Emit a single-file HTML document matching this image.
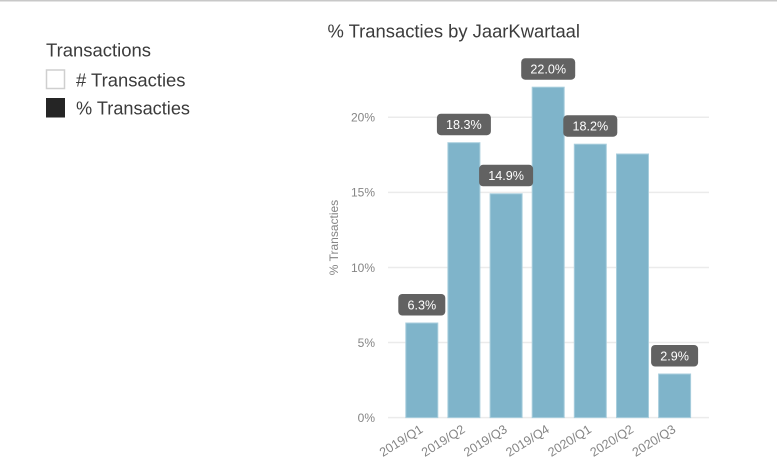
<!DOCTYPE html>
<html>
<head>
<meta charset="utf-8">
<style>
  html, body { margin: 0; padding: 0; background: #ffffff; }
  body { width: 777px; height: 470px; overflow: hidden; }
  svg { display: block; font-family: "Liberation Sans", "DejaVu Sans", sans-serif; }
</style>
</head>
<body>
<svg width="777" height="470" viewBox="0 0 777 470" xmlns="http://www.w3.org/2000/svg">
  <rect x="0" y="0" width="777" height="470" fill="#ffffff"/>
  <!-- top border -->
  <rect x="0" y="0" width="777" height="1.5" fill="#c8c8c8"/>

  <!-- Legend -->
  <text x="46" y="56.7" font-size="18" fill="#3b3b3b" textLength="105" lengthAdjust="spacingAndGlyphs">Transactions</text>
  <rect x="46.5" y="70" width="18" height="18.5" fill="#ffffff" stroke="#cfcfcf" stroke-width="1.5"/>
  <text x="76" y="86.7" font-size="18" fill="#3b3b3b" textLength="109.5" lengthAdjust="spacingAndGlyphs"># Transacties</text>
  <rect x="46" y="98" width="19" height="19.5" fill="#252525"/>
  <text x="76" y="114.3" font-size="18" fill="#3b3b3b" textLength="114" lengthAdjust="spacingAndGlyphs">% Transacties</text>

  <!-- Title -->
  <text x="327.5" y="37.3" font-size="18.3" fill="#3b3b3b" textLength="252.5" lengthAdjust="spacingAndGlyphs">% Transacties by JaarKwartaal</text>

  <!-- Gridlines -->
  <g stroke="#ebebeb" stroke-width="1.5">
    <line x1="388" y1="117.3" x2="709" y2="117.3"/>
    <line x1="388" y1="192.4" x2="709" y2="192.4"/>
    <line x1="388" y1="267.5" x2="709" y2="267.5"/>
    <line x1="388" y1="342.5" x2="709" y2="342.5"/>
    <line x1="388" y1="417.6" x2="709" y2="417.6"/>
  </g>

  <!-- Y axis labels -->
  <g font-size="12" fill="#858585" text-anchor="end">
    <text x="375" y="121.6">20%</text>
    <text x="375" y="196.7">15%</text>
    <text x="375" y="271.8">10%</text>
    <text x="375" y="346.8">5%</text>
    <text x="375" y="421.9">0%</text>
  </g>

  <!-- Y axis title -->
  <text x="0" y="0" font-size="12" fill="#858585" text-anchor="middle" transform="translate(338,237.5) rotate(-90)">% Transacties</text>

  <!-- Bars -->
  <g fill="#7fb4ca" stroke="#a8cedd" stroke-width="1">
    <rect x="405.8" y="323.0" width="32" height="94.6"/>
    <rect x="447.9" y="142.7" width="32" height="274.9"/>
    <rect x="490.1" y="193.8" width="32" height="223.8"/>
    <rect x="532.2" y="87.2" width="32" height="330.4"/>
    <rect x="574.3" y="144.2" width="32" height="273.4"/>
    <rect x="616.5" y="154.0" width="32" height="263.6"/>
    <rect x="658.6" y="374.0" width="32" height="43.6"/>
  </g>

  <!-- Data label boxes -->
  <g fill="#626262">
    <rect x="398.3" y="294.0" width="47" height="21.5" rx="4"/>
    <rect x="436.9" y="113.7" width="54" height="21.5" rx="4"/>
    <rect x="479.1" y="164.8" width="54" height="21.5" rx="4"/>
    <rect x="521.2" y="58.2" width="54" height="21.5" rx="4"/>
    <rect x="563.3" y="115.2" width="54" height="21.5" rx="4"/>
    <rect x="651.1" y="345.0" width="47" height="21.5" rx="4"/>
  </g>
  <g font-size="12.6" fill="#ffffff" text-anchor="middle">
    <text x="421.8" y="309.4">6.3%</text>
    <text x="463.9" y="129.1">18.3%</text>
    <text x="506.1" y="180.2">14.9%</text>
    <text x="548.2" y="73.6">22.0%</text>
    <text x="590.3" y="130.6">18.2%</text>
    <text x="674.6" y="360.4">2.9%</text>
  </g>

  <!-- X axis labels -->
  <g font-size="12.6" fill="#858585" text-anchor="end">
    <text transform="translate(423.8,431.5) rotate(-32)">2019/Q1</text>
    <text transform="translate(465.9,431.5) rotate(-32)">2019/Q2</text>
    <text transform="translate(508.1,431.5) rotate(-32)">2019/Q3</text>
    <text transform="translate(550.2,431.5) rotate(-32)">2019/Q4</text>
    <text transform="translate(592.3,431.5) rotate(-32)">2020/Q1</text>
    <text transform="translate(634.5,431.5) rotate(-32)">2020/Q2</text>
    <text transform="translate(676.6,431.5) rotate(-32)">2020/Q3</text>
  </g>
</svg>
</body>
</html>
